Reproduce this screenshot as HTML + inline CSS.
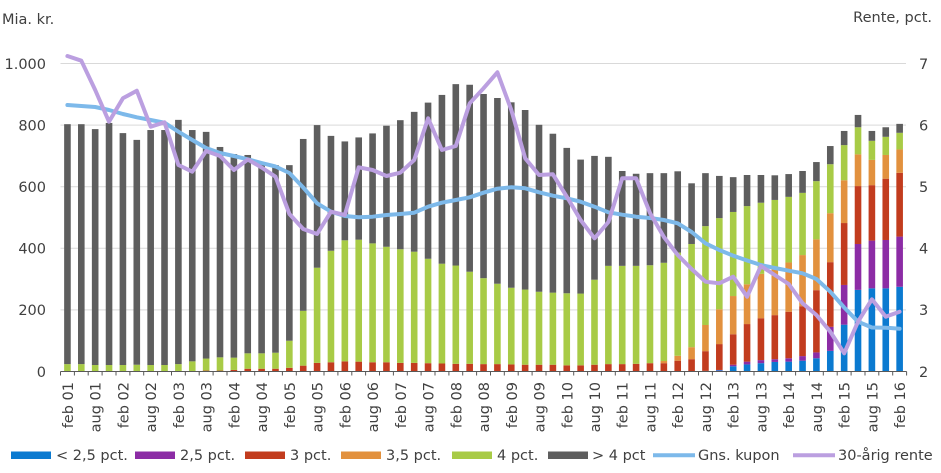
<!DOCTYPE html>
<html><head><meta charset="utf-8"><style>
html,body{margin:0;padding:0;background:#fff;}
svg{display:block;}
text{font-family:"DejaVu Sans","Liberation Sans",sans-serif;font-size:14.5px;fill:#404040;}
.b{fill:#0b7ad0}.p{fill:#8c2ca5}.r{fill:#c23c1e}.o{fill:#e2913e}.g{fill:#a8cb46}.k{fill:#5e5e5e}
</style></head><body>
<svg width="941" height="473" viewBox="0 0 941 473" xmlns="http://www.w3.org/2000/svg">
<rect width="941" height="473" fill="#fff"/>
<g stroke="#d9d9d9" stroke-width="1">
<line x1="60.5" y1="309.9" x2="906" y2="309.9"/>
<line x1="60.5" y1="248.3" x2="906" y2="248.3"/>
<line x1="60.5" y1="186.7" x2="906" y2="186.7"/>
<line x1="60.5" y1="125.1" x2="906" y2="125.1"/>
<line x1="60.5" y1="63.5" x2="906" y2="63.5"/>
</g>
<text x="2" y="24">Mia. kr.</text>
<text x="932" y="22" text-anchor="end">Rente, pct.</text>
<g text-anchor="end">
<text x="46" y="377">0</text>
<text x="46" y="315">200</text>
<text x="46" y="253.5">400</text>
<text x="46" y="192">600</text>
<text x="46" y="130.5">800</text>
<text x="46" y="69">1.000</text>
</g>
<g>
<text x="919" y="377">2</text>
<text x="919" y="315">3</text>
<text x="919" y="253.5">4</text>
<text x="919" y="192">5</text>
<text x="919" y="130.5">6</text>
<text x="919" y="69">7</text>
</g>
<g transform="matrix(13.87,0,0,-0.308,60.5,371.5)">
<rect x="0.262" y="0" width="0.476" height="24" class="g"/><rect x="0.262" y="24" width="0.476" height="779" class="k"/>
<rect x="1.262" y="0" width="0.476" height="24" class="g"/><rect x="1.262" y="24" width="0.476" height="779" class="k"/>
<rect x="2.262" y="0" width="0.476" height="21" class="g"/><rect x="2.262" y="21" width="0.476" height="766" class="k"/>
<rect x="3.262" y="0" width="0.476" height="21" class="g"/><rect x="3.262" y="21" width="0.476" height="786" class="k"/>
<rect x="4.262" y="0" width="0.476" height="21" class="g"/><rect x="4.262" y="21" width="0.476" height="753" class="k"/>
<rect x="5.262" y="0" width="0.476" height="22" class="g"/><rect x="5.262" y="22" width="0.476" height="730" class="k"/>
<rect x="6.262" y="0" width="0.476" height="21" class="g"/><rect x="6.262" y="21" width="0.476" height="763" class="k"/>
<rect x="7.262" y="0" width="0.476" height="21" class="g"/><rect x="7.262" y="21" width="0.476" height="763" class="k"/>
<rect x="8.262" y="0" width="0.476" height="24" class="g"/><rect x="8.262" y="24" width="0.476" height="793" class="k"/>
<rect x="9.262" y="0" width="0.476" height="33" class="g"/><rect x="9.262" y="33" width="0.476" height="751" class="k"/>
<rect x="10.262" y="0" width="0.476" height="3" class="r"/><rect x="10.262" y="3" width="0.476" height="39" class="g"/><rect x="10.262" y="42" width="0.476" height="736" class="k"/>
<rect x="11.262" y="0" width="0.476" height="3" class="r"/><rect x="11.262" y="3" width="0.476" height="43" class="g"/><rect x="11.262" y="46" width="0.476" height="683" class="k"/>
<rect x="12.262" y="0" width="0.476" height="5" class="r"/><rect x="12.262" y="5" width="0.476" height="40" class="g"/><rect x="12.262" y="45" width="0.476" height="661" class="k"/>
<rect x="13.262" y="0" width="0.476" height="9" class="r"/><rect x="13.262" y="9" width="0.476" height="50" class="g"/><rect x="13.262" y="59" width="0.476" height="644" class="k"/>
<rect x="14.262" y="0" width="0.476" height="9" class="r"/><rect x="14.262" y="9" width="0.476" height="50" class="g"/><rect x="14.262" y="59" width="0.476" height="621" class="k"/>
<rect x="15.262" y="0" width="0.476" height="9" class="r"/><rect x="15.262" y="9" width="0.476" height="52" class="g"/><rect x="15.262" y="61" width="0.476" height="609" class="k"/>
<rect x="16.262" y="0" width="0.476" height="12" class="r"/><rect x="16.262" y="12" width="0.476" height="88" class="g"/><rect x="16.262" y="100" width="0.476" height="570" class="k"/>
<rect x="17.262" y="0" width="0.476" height="19" class="r"/><rect x="17.262" y="19" width="0.476" height="178" class="g"/><rect x="17.262" y="197" width="0.476" height="558" class="k"/>
<rect x="18.262" y="0" width="0.476" height="28" class="r"/><rect x="18.262" y="28" width="0.476" height="309" class="g"/><rect x="18.262" y="337" width="0.476" height="463" class="k"/>
<rect x="19.262" y="0" width="0.476" height="30" class="r"/><rect x="19.262" y="30" width="0.476" height="362" class="g"/><rect x="19.262" y="392" width="0.476" height="373" class="k"/>
<rect x="20.262" y="0" width="0.476" height="33" class="r"/><rect x="20.262" y="33" width="0.476" height="393" class="g"/><rect x="20.262" y="426" width="0.476" height="321" class="k"/>
<rect x="21.262" y="0" width="0.476" height="32" class="r"/><rect x="21.262" y="32" width="0.476" height="396" class="g"/><rect x="21.262" y="428" width="0.476" height="332" class="k"/>
<rect x="22.262" y="0" width="0.476" height="30" class="r"/><rect x="22.262" y="30" width="0.476" height="386" class="g"/><rect x="22.262" y="416" width="0.476" height="357" class="k"/>
<rect x="23.262" y="0" width="0.476" height="30" class="r"/><rect x="23.262" y="30" width="0.476" height="375" class="g"/><rect x="23.262" y="405" width="0.476" height="393" class="k"/>
<rect x="24.262" y="0" width="0.476" height="28" class="r"/><rect x="24.262" y="28" width="0.476" height="369" class="g"/><rect x="24.262" y="397" width="0.476" height="419" class="k"/>
<rect x="25.262" y="0" width="0.476" height="28" class="r"/><rect x="25.262" y="28" width="0.476" height="361" class="g"/><rect x="25.262" y="389" width="0.476" height="454" class="k"/>
<rect x="26.262" y="0" width="0.476" height="27" class="r"/><rect x="26.262" y="27" width="0.476" height="339" class="g"/><rect x="26.262" y="366" width="0.476" height="507" class="k"/>
<rect x="27.262" y="0" width="0.476" height="26" class="r"/><rect x="27.262" y="26" width="0.476" height="324" class="g"/><rect x="27.262" y="350" width="0.476" height="548" class="k"/>
<rect x="28.262" y="0" width="0.476" height="25" class="r"/><rect x="28.262" y="25" width="0.476" height="319" class="g"/><rect x="28.262" y="344" width="0.476" height="589" class="k"/>
<rect x="29.262" y="0" width="0.476" height="25" class="r"/><rect x="29.262" y="25" width="0.476" height="299" class="g"/><rect x="29.262" y="324" width="0.476" height="607" class="k"/>
<rect x="30.262" y="0" width="0.476" height="24" class="r"/><rect x="30.262" y="24" width="0.476" height="279" class="g"/><rect x="30.262" y="303" width="0.476" height="598" class="k"/>
<rect x="31.262" y="0" width="0.476" height="24" class="r"/><rect x="31.262" y="24" width="0.476" height="261" class="g"/><rect x="31.262" y="285" width="0.476" height="603" class="k"/>
<rect x="32.262" y="0" width="0.476" height="23" class="r"/><rect x="32.262" y="23" width="0.476" height="249" class="g"/><rect x="32.262" y="272" width="0.476" height="602" class="k"/>
<rect x="33.262" y="0" width="0.476" height="22" class="r"/><rect x="33.262" y="22" width="0.476" height="244" class="g"/><rect x="33.262" y="266" width="0.476" height="583" class="k"/>
<rect x="34.262" y="0" width="0.476" height="22" class="r"/><rect x="34.262" y="22" width="0.476" height="237" class="g"/><rect x="34.262" y="259" width="0.476" height="542" class="k"/>
<rect x="35.262" y="0" width="0.476" height="22" class="r"/><rect x="35.262" y="22" width="0.476" height="234" class="g"/><rect x="35.262" y="256" width="0.476" height="516" class="k"/>
<rect x="36.262" y="0" width="0.476" height="20" class="r"/><rect x="36.262" y="20" width="0.476" height="234" class="g"/><rect x="36.262" y="254" width="0.476" height="472" class="k"/>
<rect x="37.262" y="0" width="0.476" height="20" class="r"/><rect x="37.262" y="20" width="0.476" height="233" class="g"/><rect x="37.262" y="253" width="0.476" height="435" class="k"/>
<rect x="38.262" y="0" width="0.476" height="22" class="r"/><rect x="38.262" y="22" width="0.476" height="276" class="g"/><rect x="38.262" y="298" width="0.476" height="402" class="k"/>
<rect x="39.262" y="0" width="0.476" height="24" class="r"/><rect x="39.262" y="24" width="0.476" height="319" class="g"/><rect x="39.262" y="343" width="0.476" height="354" class="k"/>
<rect x="40.262" y="0" width="0.476" height="24" class="r"/><rect x="40.262" y="24" width="0.476" height="319" class="g"/><rect x="40.262" y="343" width="0.476" height="308" class="k"/>
<rect x="41.262" y="0" width="0.476" height="25" class="r"/><rect x="41.262" y="25" width="0.476" height="318" class="g"/><rect x="41.262" y="343" width="0.476" height="299" class="k"/>
<rect x="42.262" y="0" width="0.476" height="27" class="r"/><rect x="42.262" y="27" width="0.476" height="318" class="g"/><rect x="42.262" y="345" width="0.476" height="299" class="k"/>
<rect x="43.262" y="0" width="0.476" height="27" class="r"/><rect x="43.262" y="27" width="0.476" height="7" class="o"/><rect x="43.262" y="34" width="0.476" height="319" class="g"/><rect x="43.262" y="353" width="0.476" height="291" class="k"/>
<rect x="44.262" y="0" width="0.476" height="35" class="r"/><rect x="44.262" y="35" width="0.476" height="16" class="o"/><rect x="44.262" y="51" width="0.476" height="335" class="g"/><rect x="44.262" y="386" width="0.476" height="264" class="k"/>
<rect x="45.262" y="0" width="0.476" height="40" class="r"/><rect x="45.262" y="40" width="0.476" height="39" class="o"/><rect x="45.262" y="79" width="0.476" height="335" class="g"/><rect x="45.262" y="414" width="0.476" height="197" class="k"/>
<rect x="46.262" y="0" width="0.476" height="2" class="b"/><rect x="46.262" y="2" width="0.476" height="64" class="r"/><rect x="46.262" y="66" width="0.476" height="85" class="o"/><rect x="46.262" y="151" width="0.476" height="321" class="g"/><rect x="46.262" y="472" width="0.476" height="172" class="k"/>
<rect x="47.262" y="0" width="0.476" height="4" class="b"/><rect x="47.262" y="4" width="0.476" height="1" class="p"/><rect x="47.262" y="5" width="0.476" height="84" class="r"/><rect x="47.262" y="89" width="0.476" height="113" class="o"/><rect x="47.262" y="202" width="0.476" height="296" class="g"/><rect x="47.262" y="498" width="0.476" height="137" class="k"/>
<rect x="48.262" y="0" width="0.476" height="17" class="b"/><rect x="48.262" y="17" width="0.476" height="5" class="p"/><rect x="48.262" y="22" width="0.476" height="99" class="r"/><rect x="48.262" y="121" width="0.476" height="124" class="o"/><rect x="48.262" y="245" width="0.476" height="273" class="g"/><rect x="48.262" y="518" width="0.476" height="113" class="k"/>
<rect x="49.262" y="0" width="0.476" height="23" class="b"/><rect x="49.262" y="23" width="0.476" height="9" class="p"/><rect x="49.262" y="32" width="0.476" height="122" class="r"/><rect x="49.262" y="154" width="0.476" height="129" class="o"/><rect x="49.262" y="283" width="0.476" height="254" class="g"/><rect x="49.262" y="537" width="0.476" height="101" class="k"/>
<rect x="50.262" y="0" width="0.476" height="27" class="b"/><rect x="50.262" y="27" width="0.476" height="10" class="p"/><rect x="50.262" y="37" width="0.476" height="136" class="r"/><rect x="50.262" y="173" width="0.476" height="144" class="o"/><rect x="50.262" y="317" width="0.476" height="231" class="g"/><rect x="50.262" y="548" width="0.476" height="90" class="k"/>
<rect x="51.262" y="0" width="0.476" height="31" class="b"/><rect x="51.262" y="31" width="0.476" height="9" class="p"/><rect x="51.262" y="40" width="0.476" height="143" class="r"/><rect x="51.262" y="183" width="0.476" height="154" class="o"/><rect x="51.262" y="337" width="0.476" height="220" class="g"/><rect x="51.262" y="557" width="0.476" height="80" class="k"/>
<rect x="52.262" y="0" width="0.476" height="32" class="b"/><rect x="52.262" y="32" width="0.476" height="11" class="p"/><rect x="52.262" y="43" width="0.476" height="151" class="r"/><rect x="52.262" y="194" width="0.476" height="160" class="o"/><rect x="52.262" y="354" width="0.476" height="213" class="g"/><rect x="52.262" y="567" width="0.476" height="74" class="k"/>
<rect x="53.262" y="0" width="0.476" height="35" class="b"/><rect x="53.262" y="35" width="0.476" height="15" class="p"/><rect x="53.262" y="50" width="0.476" height="162" class="r"/><rect x="53.262" y="212" width="0.476" height="166" class="o"/><rect x="53.262" y="378" width="0.476" height="202" class="g"/><rect x="53.262" y="580" width="0.476" height="71" class="k"/>
<rect x="54.262" y="0" width="0.476" height="43" class="b"/><rect x="54.262" y="43" width="0.476" height="19" class="p"/><rect x="54.262" y="62" width="0.476" height="202" class="r"/><rect x="54.262" y="264" width="0.476" height="165" class="o"/><rect x="54.262" y="429" width="0.476" height="189" class="g"/><rect x="54.262" y="618" width="0.476" height="62" class="k"/>
<rect x="55.262" y="0" width="0.476" height="67" class="b"/><rect x="55.262" y="67" width="0.476" height="78" class="p"/><rect x="55.262" y="145" width="0.476" height="210" class="r"/><rect x="55.262" y="355" width="0.476" height="159" class="o"/><rect x="55.262" y="514" width="0.476" height="159" class="g"/><rect x="55.262" y="673" width="0.476" height="59" class="k"/>
<rect x="56.262" y="0" width="0.476" height="152" class="b"/><rect x="56.262" y="152" width="0.476" height="129" class="p"/><rect x="56.262" y="281" width="0.476" height="201" class="r"/><rect x="56.262" y="482" width="0.476" height="139" class="o"/><rect x="56.262" y="621" width="0.476" height="114" class="g"/><rect x="56.262" y="735" width="0.476" height="46" class="k"/>
<rect x="57.262" y="0" width="0.476" height="265" class="b"/><rect x="57.262" y="265" width="0.476" height="149" class="p"/><rect x="57.262" y="414" width="0.476" height="188" class="r"/><rect x="57.262" y="602" width="0.476" height="103" class="o"/><rect x="57.262" y="705" width="0.476" height="88" class="g"/><rect x="57.262" y="793" width="0.476" height="40" class="k"/>
<rect x="58.262" y="0" width="0.476" height="270" class="b"/><rect x="58.262" y="270" width="0.476" height="155" class="p"/><rect x="58.262" y="425" width="0.476" height="180" class="r"/><rect x="58.262" y="605" width="0.476" height="82" class="o"/><rect x="58.262" y="687" width="0.476" height="62" class="g"/><rect x="58.262" y="749" width="0.476" height="32" class="k"/>
<rect x="59.262" y="0" width="0.476" height="270" class="b"/><rect x="59.262" y="270" width="0.476" height="157" class="p"/><rect x="59.262" y="427" width="0.476" height="199" class="r"/><rect x="59.262" y="626" width="0.476" height="77" class="o"/><rect x="59.262" y="703" width="0.476" height="59" class="g"/><rect x="59.262" y="762" width="0.476" height="31" class="k"/>
<rect x="60.262" y="0" width="0.476" height="275" class="b"/><rect x="60.262" y="275" width="0.476" height="163" class="p"/><rect x="60.262" y="438" width="0.476" height="207" class="r"/><rect x="60.262" y="645" width="0.476" height="76" class="o"/><rect x="60.262" y="721" width="0.476" height="54" class="g"/><rect x="60.262" y="775" width="0.476" height="29" class="k"/>
</g>
<line x1="60.5" y1="371.5" x2="906.6" y2="371.5" stroke="#595959" stroke-width="1"/>
<path stroke="#595959" stroke-width="1" fill="none" d="M60.5 371.5v4M74.4 371.5v4M88.2 371.5v4M102.1 371.5v4M116 371.5v4M129.9 371.5v4M143.7 371.5v4M157.6 371.5v4M171.5 371.5v4M185.3 371.5v4M199.2 371.5v4M213.1 371.5v4M227 371.5v4M240.8 371.5v4M254.7 371.5v4M268.6 371.5v4M282.4 371.5v4M296.3 371.5v4M310.2 371.5v4M324 371.5v4M337.9 371.5v4M351.8 371.5v4M365.6 371.5v4M379.5 371.5v4M393.4 371.5v4M407.3 371.5v4M421.1 371.5v4M435 371.5v4M448.9 371.5v4M462.7 371.5v4M476.6 371.5v4M490.5 371.5v4M504.3 371.5v4M518.2 371.5v4M532.1 371.5v4M546 371.5v4M559.8 371.5v4M573.7 371.5v4M587.6 371.5v4M601.4 371.5v4M615.3 371.5v4M629.2 371.5v4M643 371.5v4M656.9 371.5v4M670.8 371.5v4M684.6 371.5v4M698.5 371.5v4M712.4 371.5v4M726.3 371.5v4M740.1 371.5v4M754 371.5v4M767.9 371.5v4M781.7 371.5v4M795.6 371.5v4M809.5 371.5v4M823.3 371.5v4M837.2 371.5v4M851.1 371.5v4M865 371.5v4M878.8 371.5v4M892.7 371.5v4M906.6 371.5v4"/>
<polyline fill="none" stroke="#7db9ea" stroke-width="4" stroke-linejoin="round" stroke-linecap="round" points="67.4,105 81.3,106 95.2,107 109,110 122.9,114 136.8,117.3 150.7,120 164.5,122.7 178.4,131.7 192.3,140 206.1,148 220,153 233.9,156 247.8,159.3 261.6,163 275.5,166.5 289.4,173 303.2,187.5 317.1,203.3 331,211.7 344.8,216 358.7,217.3 372.6,216.7 386.5,215 400.3,214 414.2,212.7 428.1,206.7 441.9,202.7 455.8,200 469.7,197.3 483.5,192.7 497.4,188.7 511.3,187.3 525.2,188.3 539,192.3 552.9,195.7 566.8,198.3 580.6,201.7 594.5,206.7 608.4,212.3 622.2,214.7 636.1,216.7 650,218 663.9,220 677.7,223.3 691.6,232 705.5,243.3 719.3,250 733.2,255.7 747.1,260.5 760.9,265 774.8,268 788.7,270.7 802.6,273.3 816.4,279 830.3,291.7 844.2,307.5 858,321.7 871.9,327.5 885.8,327.7 899.6,328.7"/>
<polyline fill="none" stroke="#bb9fe0" stroke-width="4" stroke-linejoin="round" stroke-linecap="round" points="67.4,56 81.3,60.7 95.2,90 109,121.7 122.9,98.3 136.8,90.7 150.7,126.7 164.5,122.3 178.4,165 192.3,171.7 206.1,151 220,156 233.9,170 247.8,159.5 261.6,167.5 275.5,176.7 289.4,214 303.2,229 317.1,234 331,211.7 344.8,215 358.7,167.3 372.6,170 386.5,176 400.3,172.7 414.2,160 428.1,118.3 441.9,150 455.8,146 469.7,103.3 483.5,88.3 497.4,72.3 511.3,110 525.2,158.3 539,175 552.9,174.3 566.8,196.7 580.6,220 594.5,238.3 608.4,222 622.2,178.3 636.1,178.3 650,213 663.9,237 677.7,255 691.6,269 705.5,281.7 719.3,283.3 733.2,276.7 747.1,296.7 760.9,266 774.8,275 788.7,284 802.6,303.3 816.4,315 830.3,331.7 844.2,353.3 858,321.7 871.9,299.3 885.8,316.7 899.6,311.7"/>
<g text-anchor="end">
<text transform="translate(72.9,382) rotate(-90)">feb 01</text>
<text transform="translate(100.7,382) rotate(-90)">aug 01</text>
<text transform="translate(128.4,382) rotate(-90)">feb 02</text>
<text transform="translate(156.2,382) rotate(-90)">aug 02</text>
<text transform="translate(183.9,382) rotate(-90)">feb 03</text>
<text transform="translate(211.6,382) rotate(-90)">aug 03</text>
<text transform="translate(239.4,382) rotate(-90)">feb 04</text>
<text transform="translate(267.1,382) rotate(-90)">aug 04</text>
<text transform="translate(294.9,382) rotate(-90)">feb 05</text>
<text transform="translate(322.6,382) rotate(-90)">aug 05</text>
<text transform="translate(350.3,382) rotate(-90)">feb 06</text>
<text transform="translate(378.1,382) rotate(-90)">aug 06</text>
<text transform="translate(405.8,382) rotate(-90)">feb 07</text>
<text transform="translate(433.6,382) rotate(-90)">aug 07</text>
<text transform="translate(461.3,382) rotate(-90)">feb 08</text>
<text transform="translate(489,382) rotate(-90)">aug 08</text>
<text transform="translate(516.8,382) rotate(-90)">feb 09</text>
<text transform="translate(544.5,382) rotate(-90)">aug 09</text>
<text transform="translate(572.3,382) rotate(-90)">feb 10</text>
<text transform="translate(600,382) rotate(-90)">aug 10</text>
<text transform="translate(627.7,382) rotate(-90)">feb 11</text>
<text transform="translate(655.5,382) rotate(-90)">aug 11</text>
<text transform="translate(683.2,382) rotate(-90)">feb 12</text>
<text transform="translate(711,382) rotate(-90)">aug 12</text>
<text transform="translate(738.7,382) rotate(-90)">feb 13</text>
<text transform="translate(766.4,382) rotate(-90)">aug 13</text>
<text transform="translate(794.2,382) rotate(-90)">feb 14</text>
<text transform="translate(821.9,382) rotate(-90)">aug 14</text>
<text transform="translate(849.7,382) rotate(-90)">feb 15</text>
<text transform="translate(877.4,382) rotate(-90)">aug 15</text>
<text transform="translate(905.1,382) rotate(-90)">feb 16</text>
</g>
<rect x="11" y="451.5" width="40" height="7.5" class="b"/><text x="56" y="460">&lt; 2,5 pct.</text>
<rect x="135" y="451.5" width="40" height="7.5" class="p"/><text x="180" y="460">2,5 pct.</text>
<rect x="245" y="451.5" width="40" height="7.5" class="r"/><text x="290" y="460">3 pct.</text>
<rect x="341" y="451.5" width="40" height="7.5" class="o"/><text x="386" y="460">3,5 pct.</text>
<rect x="452" y="451.5" width="40" height="7.5" class="g"/><text x="497" y="460">4 pct.</text>
<rect x="548" y="451.5" width="40" height="7.5" class="k"/><text x="592" y="460">&gt; 4 pct</text>
<line x1="653" y1="455.2" x2="695" y2="455.2" stroke="#7db9ea" stroke-width="4"/><text x="698" y="460">Gns. kupon</text>
<line x1="793" y1="455.2" x2="835" y2="455.2" stroke="#bb9fe0" stroke-width="4"/><text x="838" y="460">30-årig rente</text>
</svg>
</body></html>
